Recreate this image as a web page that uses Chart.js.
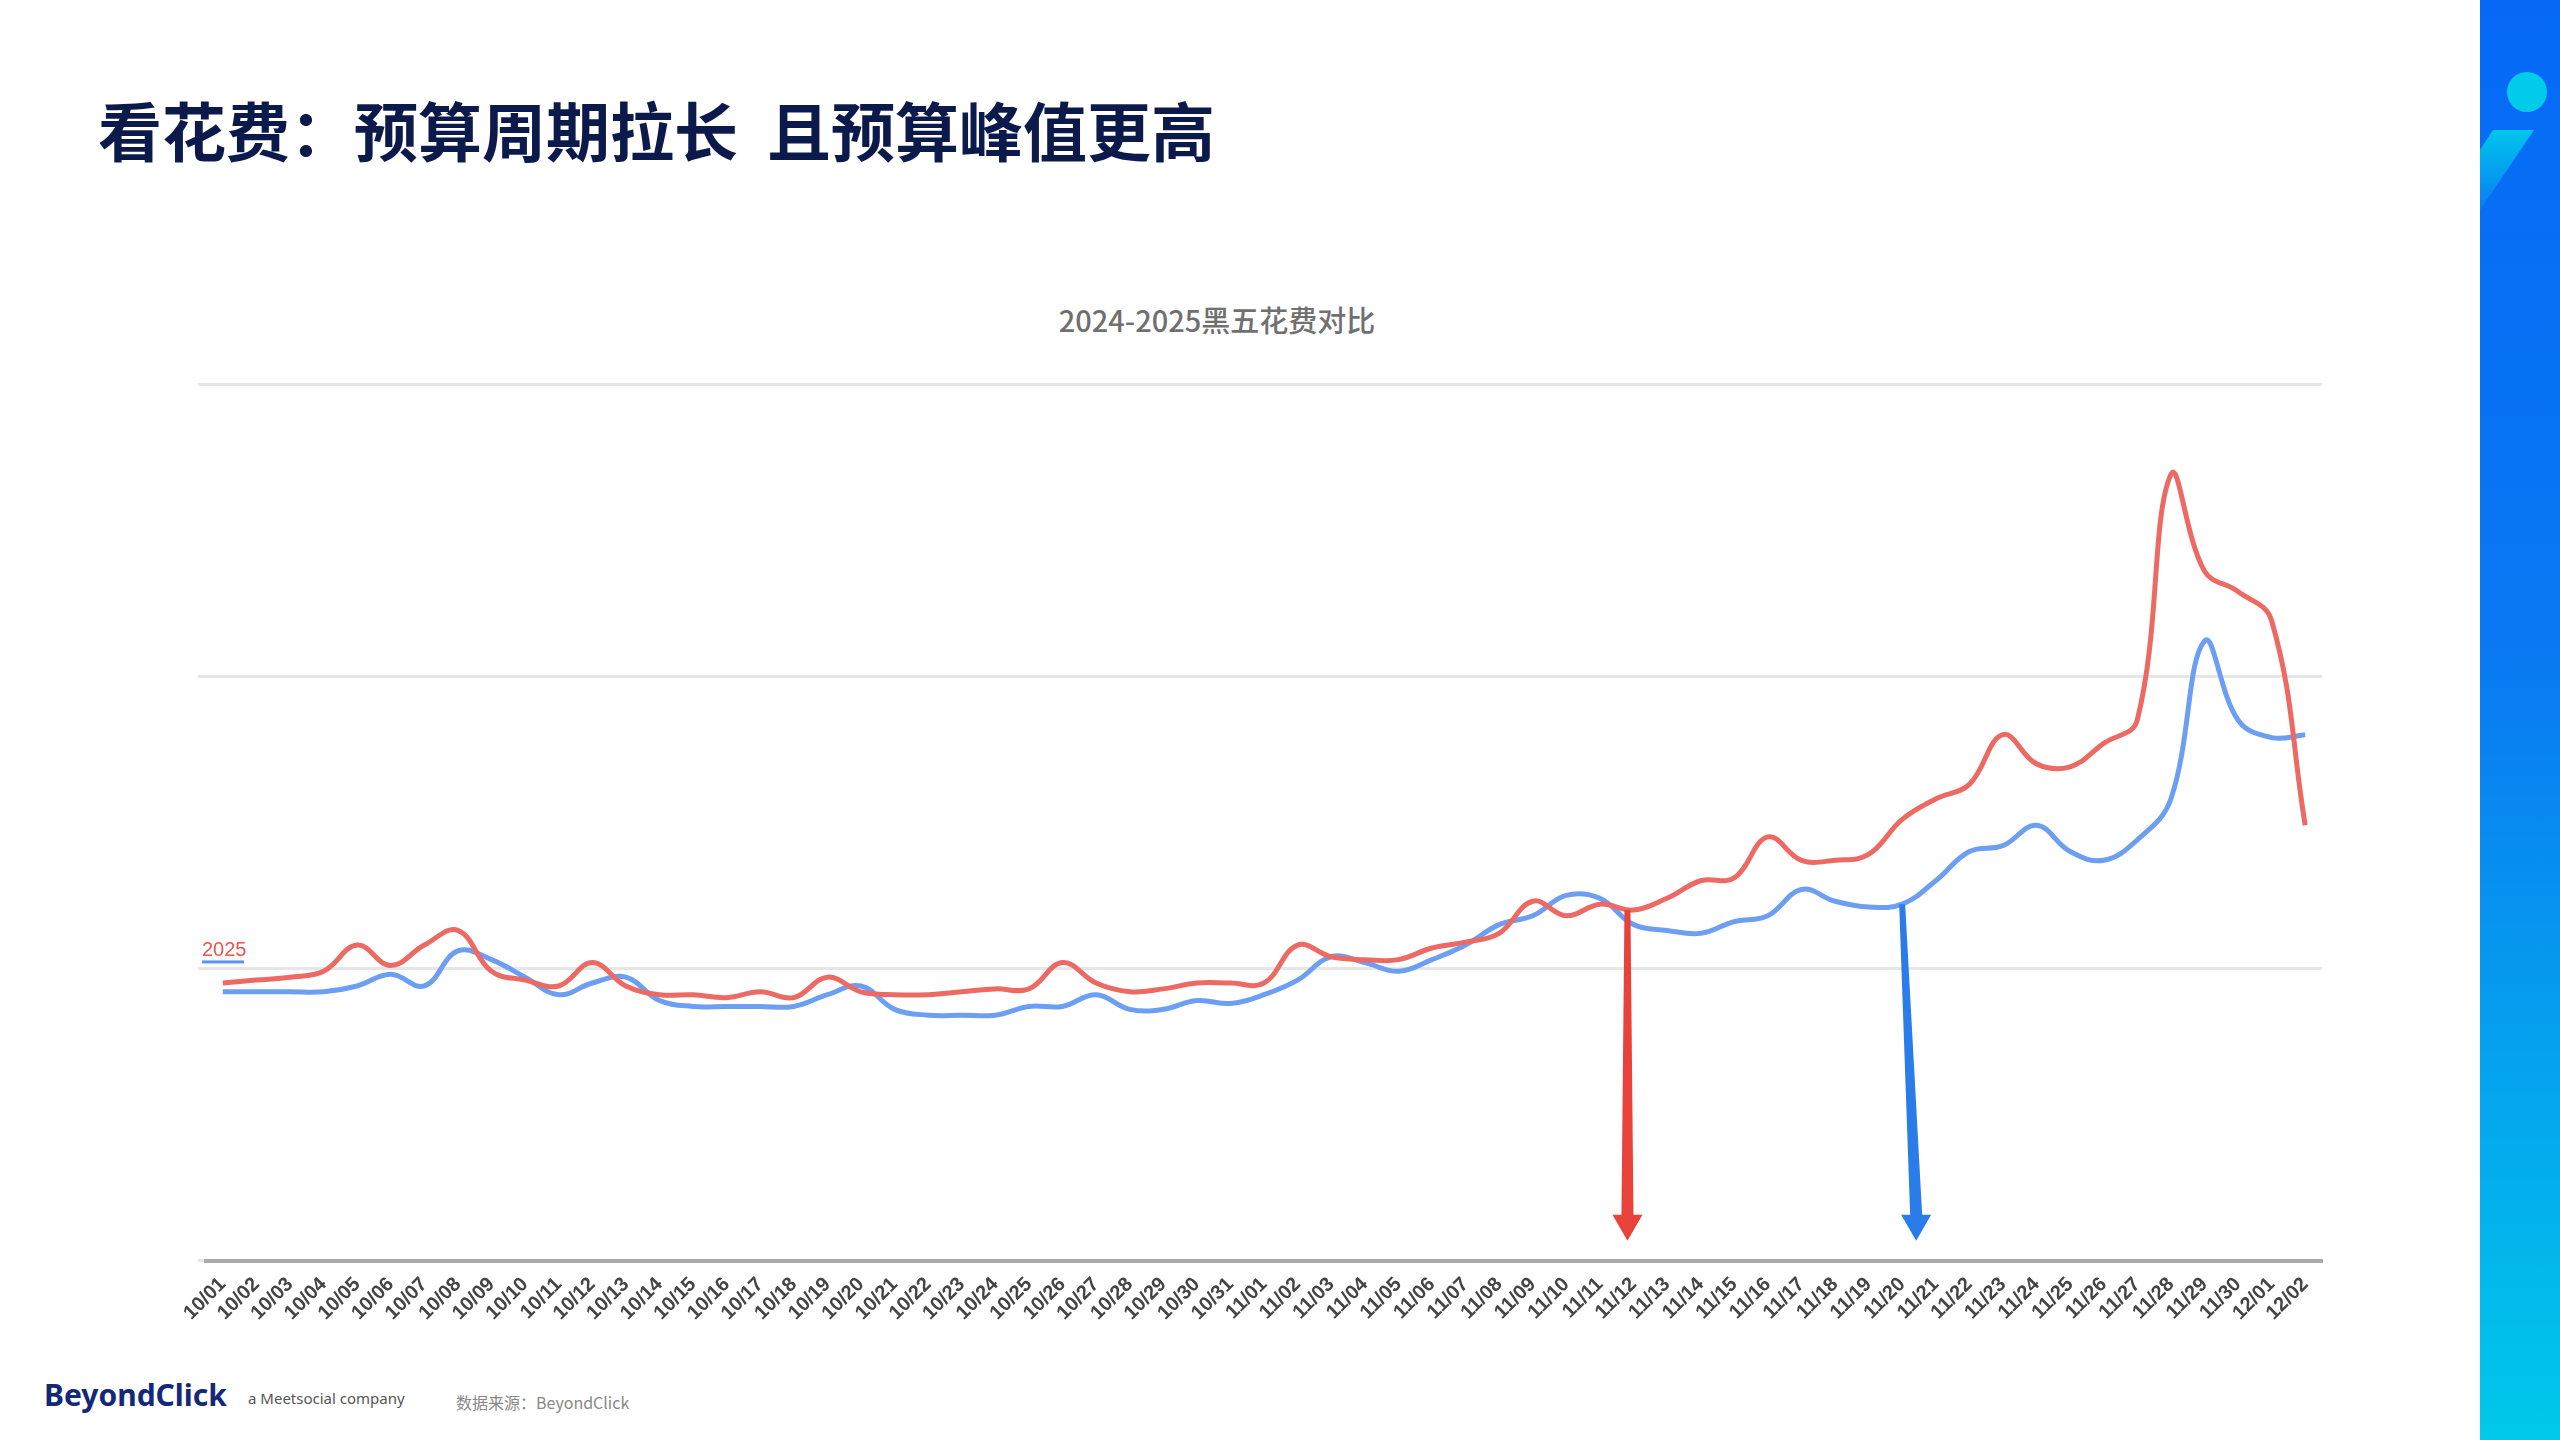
<!DOCTYPE html>
<html>
<head>
<meta charset="utf-8">
<style>
  body { margin:0; width:2560px; height:1440px; background:#fff; position:relative; overflow:hidden; font-family:"Noto Sans CJK SC","Noto Sans",sans-serif; }
  #title { position:absolute; left:98px; top:82px; font-size:64px; font-weight:bold; color:#0c1a4b; }
  #strip { position:absolute; left:2480px; top:0; width:80px; height:1440px; background:linear-gradient(180deg,#0569f6 0%,#0a78f2 45%,#00c9ea 100%); }
  #dot { position:absolute; left:2507px; top:72px; width:40px; height:40px; border-radius:50%; background:#00cbe9; }
  #slash { position:absolute; left:2480px; top:130px; width:54px; height:80px; background:linear-gradient(180deg,#00c6ec,#0a7af4); clip-path:polygon(13px 0,54px 0,0 80px,0 20px); }
  #ctitle { position:absolute; left:0; width:2434px; text-align:center; top:298px; font-size:29px; font-weight:500; color:#707070; }
  #holder { position:absolute; left:150px; top:280px; width:2250px; height:1049px; }
  #logo { position:absolute; left:44px; top:1374px; font-size:30px; font-weight:bold; color:#14287a; font-family:"Noto Sans",sans-serif; }
  #sub { position:absolute; left:248px; top:1388px; font-size:15px; color:#555; font-family:"Noto Sans",sans-serif; }
  #src { position:absolute; left:456px; top:1390px; font-size:16px; color:#888; }
</style>
</head>
<body>
<div id="title">看花费：预算周期拉长&nbsp;&nbsp;且预算峰值更高</div>
<div id="strip"></div><div id="dot"></div><div id="slash"></div>
<div id="ctitle">2024-2025黑五花费对比</div>
<div id="holder"><canvas id="chart"></canvas></div>
<div id="logo">BeyondClick</div>
<div id="sub">a Meetsocial company</div>
<div id="src">数据来源：BeyondClick</div>

<script src="https://cdn.jsdelivr.net/npm/chart.js@4/dist/chart.umd.min.js"></script>
<script>
var labels = [];
var d;
for (d = 1; d <= 31; d++) labels.push('10/' + (d < 10 ? '0' + d : d));
for (d = 1; d <= 30; d++) labels.push('11/' + (d < 10 ? '0' + d : d));
labels.push('12/01', '12/02');

var spend2025 = [0.95,0.96,0.97,0.99,1.08,1.01,1.08,1.13,0.99,0.96,0.94,1.02,0.94,0.91,0.91,0.90,0.92,0.90,0.97,0.92,0.91,0.91,0.92,0.93,0.93,1.02,0.95,0.92,0.93,0.95,0.95,0.95,1.08,1.04,1.03,1.03,1.07,1.09,1.12,1.23,1.18,1.22,1.20,1.24,1.30,1.31,1.45,1.37,1.37,1.39,1.51,1.58,1.63,1.80,1.70,1.69,1.77,1.85,2.69,2.36,2.29,2.19,1.49];
var spend2024 = [0.92,0.92,0.92,0.92,0.94,0.98,0.94,1.06,1.03,0.97,0.91,0.95,0.97,0.89,0.87,0.87,0.87,0.87,0.91,0.94,0.86,0.84,0.84,0.84,0.87,0.87,0.91,0.86,0.86,0.89,0.88,0.91,0.96,1.04,1.02,0.99,1.03,1.08,1.15,1.18,1.25,1.24,1.15,1.13,1.12,1.16,1.18,1.27,1.23,1.21,1.22,1.30,1.40,1.42,1.49,1.40,1.37,1.44,1.58,2.12,1.85,1.79,1.80];

// arrows: [label index, colour]
var arrows = [[42, '#e8423a'], [50, '#2a7de8']];

var arrowPlugin = {
  id: 'arrows',
  afterDatasetsDraw: function(chart) {
    var ctx = chart.ctx, xs = chart.scales.x, ys = chart.scales.y;
    arrows.forEach(function(a, k) {
      var x = xs.getPixelForValue(a[0]) + (k === 0 ? -6 : 0);
      var src = k === 0 ? spend2025 : spend2024;
      var y0 = ys.getPixelForValue(src[a[0]]);
      var x1 = x + (k === 0 ? 0 : 14), y1 = ys.bottom - 20;
      ctx.save();
      ctx.fillStyle = a[1];
      ctx.beginPath();
      ctx.moveTo(x - 3, y0); ctx.lineTo(x + 3, y0);
      ctx.lineTo(x1 + 6, y1 - 26); ctx.lineTo(x1 + 15, y1 - 26);
      ctx.lineTo(x1, y1); ctx.lineTo(x1 - 15, y1 - 26); ctx.lineTo(x1 - 6, y1 - 26);
      ctx.closePath(); ctx.fill();
      ctx.restore();
    });
    // faint series tag
    ctx.save();
    ctx.font = '20px Liberation Sans';
    ctx.fillStyle = '#e8564e';
    ctx.fillText('2025', chart.chartArea.left - 4, ys.getPixelForValue(1) - 12);
    ctx.fillStyle = '#5b93f0';
    ctx.fillRect(chart.chartArea.left - 4, ys.getPixelForValue(1) - 8, 42, 3);
    ctx.restore();
  }
};

new Chart(document.getElementById('chart'), {
  type: 'line',
  data: {
    labels: labels,
    datasets: [
      { label: '2025', data: spend2025, borderColor: '#ec6a63', borderWidth: 5, pointRadius: 0, tension: 0.4 },
      { label: '2024', data: spend2024, borderColor: '#6c9ff2', borderWidth: 5, pointRadius: 0, tension: 0.4 }
    ]
  },
  options: {
    responsive: true, maintainAspectRatio: false, animation: false,
    layout: { padding: { left: 48, right: 78, top: 104 } },
    plugins: { legend: { display: false }, tooltip: { enabled: false } },
    scales: {
      x: { offset: true, grid: { display: false }, border: { color: '#aaa', width: 4 },
           ticks: { color: '#444', padding: 4, font: { size: 20, weight: 'bold', family: 'Liberation Sans' }, maxRotation: 45, minRotation: 45, autoSkip: false } },
      y: { min: 0, max: 3, ticks: { display: false, stepSize: 1 }, border: { display: false },
           grid: { color: '#e6e6e6', lineWidth: 3 } }
    }
  },
  plugins: [arrowPlugin]
});
</script>
</body>
</html>
